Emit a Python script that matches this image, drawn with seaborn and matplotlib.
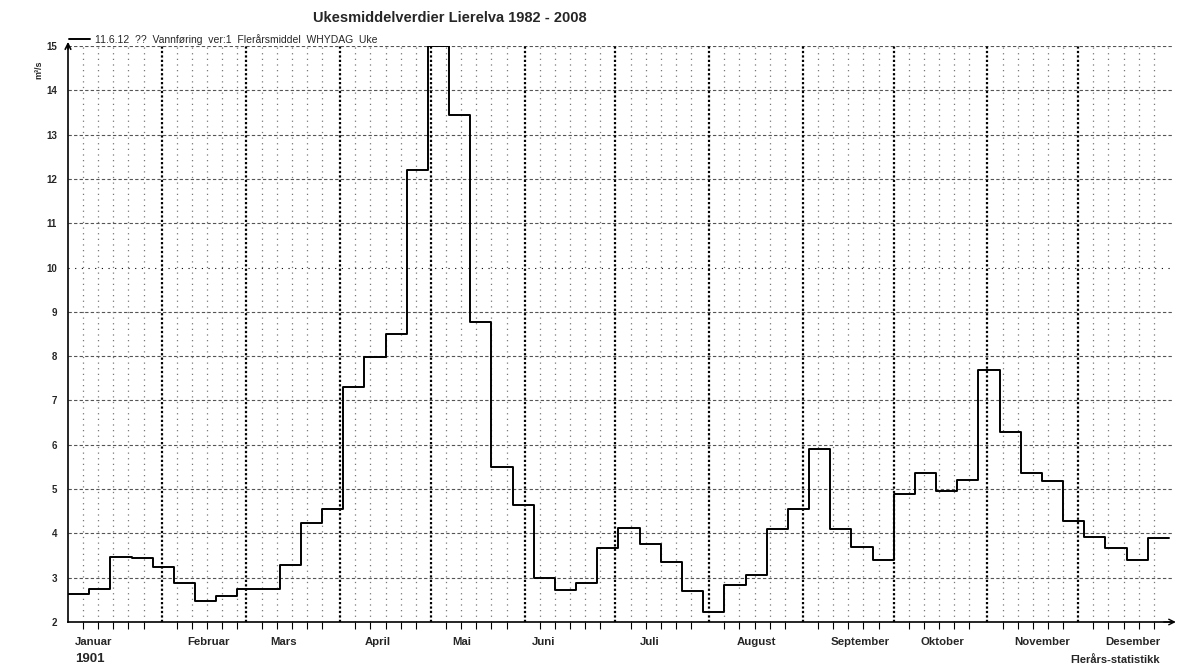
import matplotlib
matplotlib.use("Agg")
import matplotlib.pyplot as plt
import seaborn as sns
import numpy as np
import pandas as pd

# weekly mean discharge (m3/s), week 1..52
weekly_flow = [2.63, 2.74, 3.47, 3.44, 3.25, 2.87, 2.47, 2.59, 2.74, 2.74,
               3.28, 4.23, 4.55, 7.30, 7.98, 8.51, 12.20, 15.00, 13.44, 8.78,
               5.49, 4.63, 2.99, 2.73, 2.89, 3.67, 4.13, 3.77, 3.35, 2.70,
               2.23, 2.83, 3.06, 4.10, 4.55, 5.90, 4.09, 3.70, 3.40, 4.88,
               5.36, 4.96, 5.20, 7.69, 6.28, 5.36, 5.18, 4.29, 3.92, 3.68,
               3.40, 3.89]
month_names = ["Januar", "Februar", "Mars", "April", "Mai", "Juni", "Juli",
               "August", "September", "Oktober", "November", "Desember"]
month_start = [0, 31, 59, 90, 120, 151, 181, 212, 243, 273, 304, 334]
month_label_x = [2.3, 39.3, 67, 98, 127, 153.5, 189, 221, 252, 281.7, 313, 343]
y_ticks = list(range(2, 16))

title = "Ukesmiddelverdier Lierelva 1982 - 2008"
series_label = "11.6.12  ??  Vannføring  ver:1  Flerårsmiddel  WHYDAG  Uke"

days = [7 * i for i in range(len(weekly_flow))] + [7 * len(weekly_flow)]
df = pd.DataFrame({"day": days, "flow": weekly_flow + [weekly_flow[-1]]})

sns.set_style("white")
plt.rcParams["font.family"] = ["Liberation Sans", "DejaVu Sans"]

fig = plt.figure(figsize=(11.8, 6.67), dpi=100)
ax = fig.add_axes([68 / 1180, 1 - 622 / 667, 1104 / 1180, 576 / 667])

# grid
for y in y_ticks[1:]:
    if y == 10:
        ax.axhline(y, color="black", lw=0.8, ls=(0, (1, 5)), zorder=1)
    else:
        ax.axhline(y, color="#555555", lw=0.8, ls=(0, (3, 2)), zorder=1)
for m in month_start[1:]:
    ax.axvline(m, color="black", lw=1.6, ls=(0, (1, 1)), zorder=1)
for m in month_start:
    for d in (5, 10, 15, 20, 25):
        ax.axvline(m + d, color="#777777", lw=0.9, ls=(0, (1, 3.5)), zorder=1)

sns.lineplot(data=df, x="day", y="flow", drawstyle="steps-post", color="black",
             lw=1.4, label=series_label, ax=ax, zorder=3)

ax.set_xlim(0, 365)
ax.set_ylim(2, 15)
ax.set_xlabel("")
ax.set_ylabel("")
for s in ("top", "right"):
    ax.spines[s].set_visible(False)
for s in ("left", "bottom"):
    ax.spines[s].set_color("black")
    ax.spines[s].set_linewidth(1.2)

ax.set_yticks(y_ticks)
ax.set_yticklabels([str(v) for v in y_ticks], fontsize=7, fontweight="bold")
ax.tick_params(axis="y", direction="out", length=5, width=1, color="black", pad=3)

ax.set_xticks(month_start[1:])
ax.set_xticklabels([])
ax.tick_params(axis="x", which="major", direction="out", length=11, width=2.5, color="black")
ax.set_xticks(np.arange(0, 366, 1), minor=True)
ax.tick_params(axis="x", which="minor", direction="out", length=3, width=0.6, color="black")
sec = ax.secondary_xaxis("bottom")
sec.set_xticks([m + d for m in month_start for d in (5, 10, 15, 20, 25)])
sec.set_xticklabels([])
sec.tick_params(direction="out", length=5, width=0.8, color="black")
sec.spines["bottom"].set_visible(False)

# axis arrows
ax.annotate("", xy=(0, 1.012), xytext=(0, 0.99), xycoords="axes fraction",
            arrowprops=dict(arrowstyle="->", color="black", lw=1.2))
ax.annotate("", xy=(1.006, 0), xytext=(0.99, 0), xycoords="axes fraction",
            arrowprops=dict(arrowstyle="->", color="black", lw=1.0))

# month labels
for name, xm in zip(month_names, month_label_x):
    ax.text(xm, -0.035, name, transform=ax.get_xaxis_transform(), ha="left", va="center",
            fontsize=8.2, fontweight="bold")

leg = ax.legend(loc="lower left", bbox_to_anchor=(0.0, 1.0), frameon=False, fontsize=7.5,
                handlelength=2.0, handletextpad=0.5, borderaxespad=0.0, borderpad=0.1)

fig.text(450 / 1180, 1 - 18 / 667, title, ha="center", va="center", fontsize=10.5,
         fontweight="bold")
fig.text(39 / 1180, 1 - 70 / 667, "m³/s", rotation=90, ha="center", va="center",
         fontsize=6.5, fontweight="bold")
fig.text(75 / 1180, 1 - 659 / 667, "1901", ha="left", va="center", fontsize=9.5,
         fontweight="bold")
fig.text(1070 / 1180, 1 - 660 / 667, "Flerårs-statistikk", ha="left", va="center",
         fontsize=8, fontweight="bold")

fig.savefig("out.png", dpi=100)
plt.close(fig)
